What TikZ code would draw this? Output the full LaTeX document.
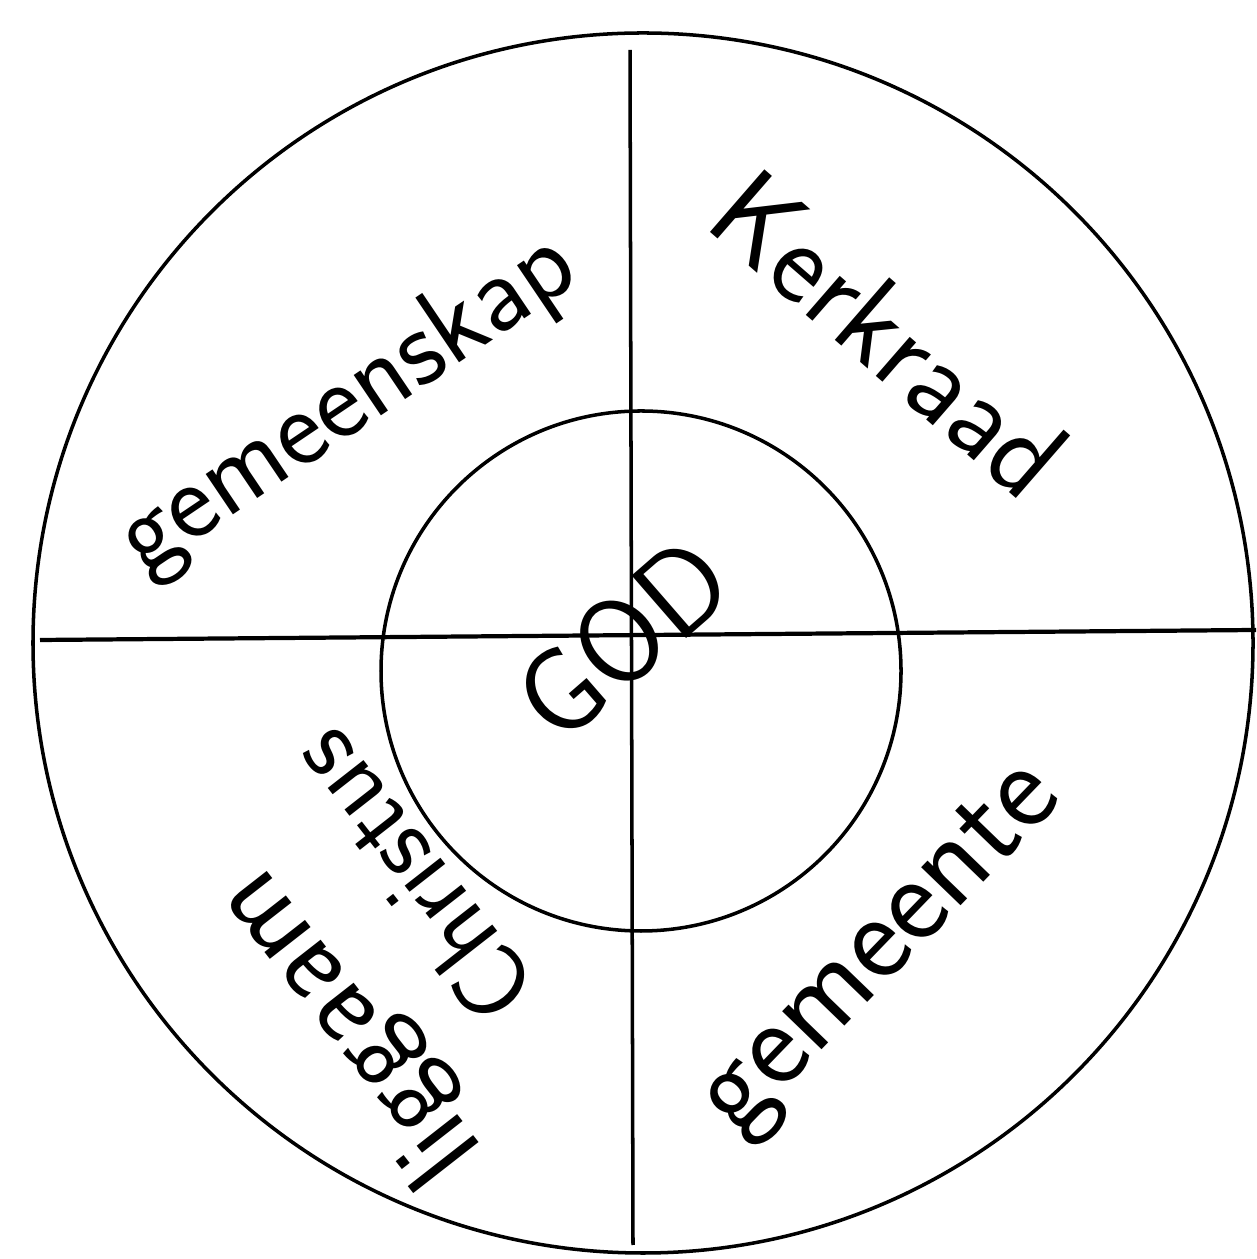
\documentclass[tikz,border=0pt]{standalone}
\usepackage{tikz}

\tikzset{
  ring/.style={line width=1pt},
  axis/.style={line width=1.2pt},
  word/.style={font=\sffamily\fontsize{#1}{#1}\selectfont, inner sep=0pt},
  word/.default=30,
}

\begin{document}
\begin{tikzpicture}
\useasboundingbox (0,0) rectangle (12.56,12.59);
% Draw the two circles
\draw[ring] (6.43,6.16) circle (6.10);
\draw[ring] (6.41,5.88) circle (2.60);
% Draw the cross
\coordinate (west) at (0.40,6.19);
\coordinate (east) at (12.56,6.29);
\coordinate (north) at (6.30,12.09);
\coordinate (south) at (6.33,0.14);
\draw[axis] (west) -- (east);
\draw[ring] (north) -- (south);
% Labels
\node[word=34, rotate=41] (god) at (6.22,6.20) {GOD};
\node[word=32, rotate=34] (gemeenskap) at (3.48,8.54) {gemeenskap};
\node[word=34, rotate=-41] (kerkraad) at (8.90,9.25) {Kerkraad};
\node[word=36, rotate=46] (gemeente) at (8.85,3.06) {gemeente};
\node[word=30, rotate=128] (christus) at (4.10,3.81) {Christus};
\node[word=34, rotate=128] (liggaam) at (3.50,2.34) {liggaam};
\end{tikzpicture}
\end{document}
